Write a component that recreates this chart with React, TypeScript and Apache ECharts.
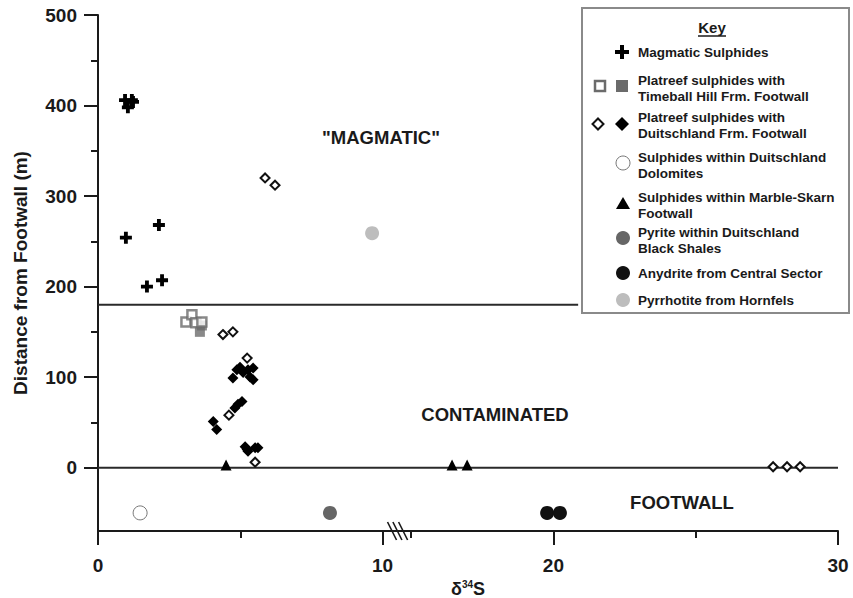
import { useEffect, useRef } from "react";
import * as echarts from "echarts";

// ---------- data (real δ34S values, distance in m) ----------
const xMajorTicks = [0, 10, 20, 30];
const xMinorTicks = [5, 15, 25];
const yMajorTicks = [0, 100, 200, 300, 400, 500];
const yMinorTicks = [50, 150, 250, 350, 450];

const magmatic = [[0.95, 406], [1.19, 406], [1.05, 398], [1.23, 404], [0.98, 254], [2.14, 268], [1.72, 200], [2.25, 207]];
const timeballOpen = [[3.09, 161], [3.3, 169], [3.44, 160], [3.65, 161]];
const timeballFilled = [[3.58, 150], [3.65, 157]];
const duitOpen = [[4.39, 147], [4.74, 150], [5.24, 121], [4.6, 58], [5.52, 6], [5.87, 320], [6.22, 312], [27.72, 1], [28.21, 1], [28.67, 1]];
const duitFilled = [[4.05, 51], [4.17, 42], [4.74, 99], [4.88, 108], [4.99, 111], [5.1, 105], [5.27, 108], [5.34, 100], [5.45, 97], [5.45, 110], [4.81, 66], [4.92, 70], [5.06, 73], [5.17, 23], [5.24, 20], [5.27, 18], [5.52, 22], [5.62, 22]];
const dolomite = [[1.48, -50]];
const marbleSkarn = [[4.5, 3], [16.44, 3], [16.97, 3]];
const blackShale = [[8.15, -50]];
const anhydrite = [[19.78, -50], [20.23, -50]];
const hornfels = [[9.63, 259]];

const magmaticBoundary = [[0, 180], [20.87, 180]];
const footwallBoundary = [[0, 0], [30, 0]];

const X_MIN = 0;
const X_MAX = 30;
const Y_MIN = -70;
const Y_MAX = 500;
const BREAK_AT = 12;
const BREAK_SHIFT = 4;

const toAxis = (v: number) => (v > BREAK_AT ? v - BREAK_SHIFT : v);
const mapPts = (arr: number[][]) => arr.map(([x, y]) => [toAxis(x), y]);

const FONT = '"Liberation Sans", Arial, Helvetica, sans-serif';
const INK = "#1a1a1a";

const plusPath = "path://M3.4,0H6.6V3.4H10V6.6H6.6V10H3.4V6.6H0V3.4H3.4Z";

function plusPoints(cx: number, cy: number, r: number, t: number) {
  return [
    [cx - t, cy - r], [cx + t, cy - r], [cx + t, cy - t], [cx + r, cy - t], [cx + r, cy + t], [cx + t, cy + t],
    [cx + t, cy + r], [cx - t, cy + r], [cx - t, cy + t], [cx - r, cy + t], [cx - r, cy - t], [cx - t, cy - t],
  ];
}
function diamondPoints(cx: number, cy: number, r: number) {
  return [[cx, cy - r], [cx + r, cy], [cx, cy + r], [cx - r, cy]];
}

export default function App() {
  const ref = useRef<HTMLDivElement>(null);

  useEffect(() => {
    if (!ref.current) return;
    const chart = echarts.init(ref.current, null, { renderer: "svg" });

    const lineSeries = (name: string, data: number[][]) => ({
      name,
      type: "line",
      data: mapPts(data),
      showSymbol: false,
      symbol: "none",
      silent: true,
      lineStyle: { color: "#2a2a2a", width: 2 },
      z: 1,
    });

    const option: any = {
      animation: false,
      backgroundColor: "#ffffff",
      grid: { left: 98, right: 15, top: 15, bottom: 67, containLabel: false, outerBoundsMode: "none" },
      xAxis: [
        {
          type: "value",
          min: toAxis(X_MIN),
          max: toAxis(X_MAX),
          position: "bottom",
          splitLine: { show: false },
          axisLine: { show: true, onZero: false, lineStyle: { color: INK, width: 2 } },
          axisTick: { show: true, length: 14, lineStyle: { color: INK, width: 2 }, customValues: xMajorTicks.map(toAxis) },
          axisLabel: {
            show: true,
            customValues: xMajorTicks.map(toAxis),
            formatter: (v: number) => String(Math.round(v > 10.5 ? v + BREAK_SHIFT : v)),
            margin: 25,
            fontSize: 19,
            fontWeight: "bold",
            fontFamily: FONT,
            color: INK,
          },
          name: "δ{sup|34}S",
          nameLocation: "middle",
          nameGap: 45,
          nameTextStyle: {
            fontSize: 18,
            fontWeight: "bold",
            fontFamily: FONT,
            color: INK,
            rich: {
              sup: { fontSize: 10, fontWeight: "bold", fontFamily: FONT, color: INK, verticalAlign: "bottom", padding: [0, 0, 8, 0] },
            },
          },
        },
        {
          type: "value",
          min: toAxis(X_MIN),
          max: toAxis(X_MAX),
          position: "bottom",
          splitLine: { show: false },
          axisLine: { show: false, onZero: false },
          axisLabel: { show: false },
          axisTick: { show: true, length: 7, lineStyle: { color: INK, width: 2 }, customValues: xMinorTicks.map(toAxis) },
        },
      ],
      yAxis: [
        {
          type: "value",
          min: Y_MIN,
          max: Y_MAX,
          position: "left",
          splitLine: { show: false },
          axisLine: { show: true, onZero: false, lineStyle: { color: INK, width: 2 } },
          axisTick: { show: true, length: 14, lineStyle: { color: INK, width: 2 }, customValues: yMajorTicks },
          axisLabel: {
            show: true,
            customValues: yMajorTicks,
            margin: 21,
            fontSize: 19,
            fontWeight: "bold",
            fontFamily: FONT,
            color: INK,
          },
          name: "Distance from Footwall (m)",
          nameLocation: "middle",
          nameGap: 68,
          nameTextStyle: { fontSize: 19, fontWeight: "bold", fontFamily: FONT, color: INK },
        },
        {
          type: "value",
          min: Y_MIN,
          max: Y_MAX,
          position: "left",
          splitLine: { show: false },
          axisLine: { show: false, onZero: false },
          axisLabel: { show: false },
          axisTick: { show: true, length: 7, lineStyle: { color: INK, width: 2 }, customValues: yMinorTicks },
        },
      ],
      series: [
        lineSeries("Magmatic boundary", magmaticBoundary),
        lineSeries("Footwall boundary", footwallBoundary),
        {
          name: "Platreef sulphides with Timeball Hill Frm. Footwall (filled)",
          type: "scatter",
          data: mapPts(timeballFilled),
          symbol: "rect",
          symbolSize: 10,
          itemStyle: { color: "#6b6b6b" },
          z: 3,
        },
        {
          name: "Platreef sulphides with Timeball Hill Frm. Footwall",
          type: "scatter",
          data: mapPts(timeballOpen),
          symbol: "rect",
          symbolSize: 9,
          itemStyle: { color: "#ffffff", borderColor: "#6b6b6b", borderWidth: 2.5 },
          z: 4,
        },
        {
          name: "Magmatic Sulphides",
          type: "scatter",
          data: mapPts(magmatic),
          symbol: plusPath,
          symbolSize: 12,
          itemStyle: { color: "#000000", opacity: 1 },
          z: 4,
        },
        {
          name: "Platreef sulphides with Duitschland Frm. Footwall (filled)",
          type: "scatter",
          data: mapPts(duitFilled),
          symbol: "diamond",
          symbolSize: 11,
          itemStyle: { color: "#000000", opacity: 1 },
          z: 3,
        },
        {
          name: "Platreef sulphides with Duitschland Frm. Footwall",
          type: "scatter",
          data: mapPts(duitOpen),
          symbol: "diamond",
          symbolSize: 9,
          itemStyle: { color: "#ffffff", borderColor: "#111111", borderWidth: 2, opacity: 1 },
          z: 5,
        },
        {
          name: "Sulphides within Duitschland Dolomites",
          type: "scatter",
          data: mapPts(dolomite),
          symbol: "circle",
          symbolSize: 14,
          itemStyle: { color: "#ffffff", borderColor: "#777777", borderWidth: 1, opacity: 1 },
          z: 4,
        },
        {
          name: "Sulphides within Marble-Skarn Footwall",
          type: "scatter",
          data: mapPts(marbleSkarn),
          symbol: "triangle",
          symbolSize: 11,
          itemStyle: { color: "#000000", opacity: 1 },
          z: 4,
        },
        {
          name: "Pyrite within Duitschland Black Shales",
          type: "scatter",
          data: mapPts(blackShale),
          symbol: "circle",
          symbolSize: 14,
          itemStyle: { color: "#666666", opacity: 1 },
          z: 4,
        },
        {
          name: "Anydrite from Central Sector",
          type: "scatter",
          data: mapPts(anhydrite),
          symbol: "circle",
          symbolSize: 14,
          itemStyle: { color: "#111111", opacity: 1 },
          z: 4,
        },
        {
          name: "Pyrrhotite from Hornfels",
          type: "scatter",
          data: mapPts(hornfels),
          symbol: "circle",
          symbolSize: 14,
          itemStyle: { color: "#bdbdbd", opacity: 1 },
          z: 4,
        },
      ],
    };

    chart.setOption(option);

    // break marks on the x axis, placed through the axis scale
    const breakCenters = [10.33, 10.52, 10.72];
    const breakMarks = breakCenters.map((c) => {
      const p = chart.convertToPixel({ xAxisIndex: 0, yAxisIndex: 0 }, [c, Y_MIN]) as number[];
      return {
        type: "line",
        z: 50,
        shape: { x1: p[0] - 4.5, y1: p[1] - 9, x2: p[0] + 4.5, y2: p[1] + 9 },
        style: { stroke: INK, lineWidth: 1.6 },
      };
    });

    const legendText = (text: string, y: number) => ({
      type: "text",
      z: 60,
      style: { text, x: 638, y, font: `bold 13.5px ${FONT}`, fill: INK, verticalAlign: "middle", align: "left" },
    });

    const legend = [
      {
        type: "rect",
        z: 55,
        shape: { x: 582, y: 8, width: 267, height: 305 },
        style: { fill: "#ffffff", stroke: "#8a8a8a", lineWidth: 2 },
      },
      {
        type: "text",
        z: 60,
        style: { text: "Key", x: 712, y: 27, font: `bold 15px ${FONT}`, fill: INK, align: "center", verticalAlign: "middle" },
      },
      { type: "line", z: 60, shape: { x1: 698, y1: 36, x2: 726, y2: 36 }, style: { stroke: INK, lineWidth: 1.5 } },

      { type: "polygon", z: 60, shape: { points: plusPoints(622, 52, 7, 2) }, style: { fill: "#000000" } },
      legendText("Magmatic Sulphides", 52),

      { type: "rect", z: 60, shape: { x: 595, y: 81, width: 10, height: 10 }, style: { fill: "#ffffff", stroke: "#6b6b6b", lineWidth: 2.5 } },
      { type: "rect", z: 60, shape: { x: 616, y: 80, width: 12, height: 12 }, style: { fill: "#6b6b6b" } },
      legendText("Platreef sulphides with", 80),
      legendText("Timeball Hill Frm. Footwall", 96),

      { type: "polygon", z: 60, shape: { points: diamondPoints(598, 124, 5.5) }, style: { fill: "#ffffff", stroke: "#111111", lineWidth: 2 } },
      { type: "polygon", z: 60, shape: { points: diamondPoints(622, 124, 7) }, style: { fill: "#000000" } },
      legendText("Platreef sulphides with", 117),
      legendText("Duitschland Frm. Footwall", 133),

      { type: "circle", z: 60, shape: { cx: 623, cy: 163, r: 7 }, style: { fill: "#ffffff", stroke: "#777777", lineWidth: 1 } },
      legendText("Sulphides within Duitschland", 157),
      legendText("Dolomites", 173),

      { type: "polygon", z: 60, shape: { points: [[623, 197], [630, 209], [616, 209]] }, style: { fill: "#000000" } },
      legendText("Sulphides within Marble-Skarn", 197),
      legendText("Footwall", 213),

      { type: "circle", z: 60, shape: { cx: 623, cy: 238, r: 7 }, style: { fill: "#666666" } },
      legendText("Pyrite within Duitschland", 232),
      legendText("Black Shales", 248),

      { type: "circle", z: 60, shape: { cx: 623, cy: 273, r: 7 }, style: { fill: "#111111" } },
      legendText("Anydrite from Central Sector", 273),

      { type: "circle", z: 60, shape: { cx: 623, cy: 300, r: 7 }, style: { fill: "#bdbdbd" } },
      legendText("Pyrrhotite from Hornfels", 300),
    ];

    const regionLabel = (text: string, x: number, y: number) => ({
      type: "text",
      z: 40,
      style: { text, x, y, font: `bold 18.5px ${FONT}`, fill: INK, align: "center", verticalAlign: "middle" },
    });

    chart.setOption({
      graphic: [
        ...breakMarks,
        regionLabel('"MAGMATIC"', 381, 137),
        regionLabel("CONTAMINATED", 495, 414),
        regionLabel("FOOTWALL", 682, 502),
        ...legend,
      ],
    });

    return () => chart.dispose();
  }, []);

  return <div ref={ref} style={{ position: "absolute", left: 0, top: 0, width: 853, height: 598 }} />;
}
